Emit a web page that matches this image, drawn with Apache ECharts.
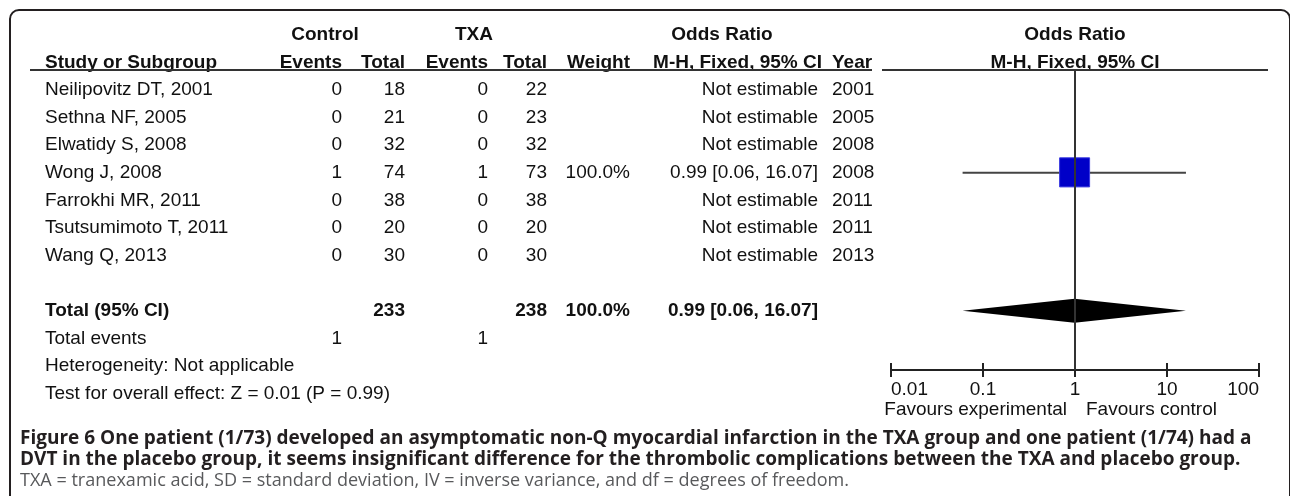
<!DOCTYPE html>
<html><head><meta charset="utf-8">
<script src="https://cdn.jsdelivr.net/npm/echarts@6/dist/echarts.min.js"></script>
<style>html,body{margin:0;padding:0;background:#fff}#c{width:1290px;height:496px}</style>
</head><body><div id="c"></div>
<script>
// ---------- data ----------
const studies = ["Neilipovitz DT, 2001","Sethna NF, 2005","Elwatidy S, 2008","Wong J, 2008","Farrokhi MR, 2011","Tsutsumimoto T, 2011","Wang Q, 2013"];
const controlEvents = [0,0,0,1,0,0,0];
const controlTotal  = [18,21,32,74,38,20,30];
const txaEvents     = [0,0,0,1,0,0,0];
const txaTotal      = [22,23,32,73,38,20,30];
const weights       = [null,null,null,100.0,null,null,null];
const orEst         = [null,null,null,0.99,null,null,null];
const ciLow         = [null,null,null,0.06,null,null,null];
const ciHigh        = [null,null,null,16.07,null,null,null];
const years         = [2001,2005,2008,2008,2011,2011,2013];
const totalControl = 233, totalTxa = 238, totalWeight = 100.0;
const pooledOR = 0.99, pooledLow = 0.06, pooledHigh = 16.07;
const totalEventsControl = 1, totalEventsTxa = 1;
const heterogeneityText = "Heterogeneity: Not applicable";
const overallText = "Test for overall effect: Z = 0.01 (P = 0.99)";
const axisTicks = [0.01, 0.1, 1, 10, 100];
const favoursLabels = ["Favours experimental", "Favours control"];
const captionBold = [
  "Figure 6 One patient (1/73) developed an asymptomatic non-Q myocardial infarction in the TXA group and one patient (1/74) had a",
  "DVT in the placebo group, it seems insignificant difference for the thrombolic complications between the TXA and placebo group."
];
const captionPlain = "TXA = tranexamic acid, SD = standard deviation, IV = inverse variance, and df = degrees of freedom.";

// ---------- layout ----------
const ROW_TOTAL = 8, ROW_EVENTS = 9, ROW_HET = 10, ROW_TEST = 11;
const FONT = "'Liberation Sans', Arial, sans-serif";
const FS = 19;
const INK = '#111';
const COL = {name:45, cEv:342, cTot:405, tEv:488, tTot:547, weight:630, or:818, year:832};

const chart = echarts.init(document.getElementById('c'), null, {renderer:'canvas'});

const estData = [];
for (let i = 0; i < studies.length; i++) {
  if (orEst[i] != null) estData.push([orEst[i], ciLow[i], ciHigh[i], i, weights[i]]);
}

const baseAxis = {
  type:'log', logBase:10, min:axisTicks[0], max:axisTicks[axisTicks.length-1], interval:1,
  splitLine:{show:false}, position:'bottom', offset:0
};

chart.setOption({
  animation:false,
  grid:{left:891, right:31, top:70, bottom:126},
  xAxis:[
    Object.assign({}, baseAxis, {
      axisLine:{show:true, onZero:false, lineStyle:{color:'#222', width:2}},
      axisTick:{show:true, inside:false, length:7, lineStyle:{color:'#222', width:2}},
      axisLabel:{show:true, margin:10, fontSize:FS, fontFamily:FONT, color:INK,
        alignMinLabel:'left', alignMaxLabel:'right',
        formatter: v => String(+Number(v).toPrecision(2))}
    }),
    Object.assign({}, baseAxis, {
      axisLine:{show:false, onZero:false},
      axisTick:{show:true, inside:true, length:7, lineStyle:{color:'#222', width:2}},
      axisLabel:{show:false}
    })
  ],
  yAxis:{type:'value', inverse:true, min:-0.725, max:10.145, show:false},
  series:[
    {
      type:'scatter', data:[], symbolSize:0, z:1,
      markLine:{symbol:'none', silent:true, label:{show:false}, animation:false,
        lineStyle:{color:'#333', width:2, type:'solid'}, data:[{xAxis:1}]}
    },
    {
      type:'custom', z:3, clip:false, data:estData,
      renderItem(params, api){
        const row = api.value(3);
        const lo = api.coord([api.value(1), row]);
        const hi = api.coord([api.value(2), row]);
        const c = api.coord([api.value(0), row]);
        const s = 30 * Math.sqrt(api.value(4) / 100);
        return {type:'group', children:[
          {type:'line', shape:{x1:lo[0], y1:lo[1], x2:hi[0], y2:hi[1]}, style:{stroke:'#444', lineWidth:2}},
          {type:'rect', shape:{x:c[0]-s/2, y:c[1]-s/2, width:s, height:s*0.97}, style:{fill:'#0000c8', stroke:'#3a3ae0', lineWidth:1}}
        ]};
      }
    },
    {
      type:'custom', z:3, clip:false, data:[[pooledOR, pooledLow, pooledHigh, ROW_TOTAL]],
      renderItem(params, api){
        const row = api.value(3);
        const lo = api.coord([api.value(1), row]);
        const hi = api.coord([api.value(2), row]);
        const c = api.coord([api.value(0), row]);
        return {type:'polygon', shape:{points:[[lo[0],lo[1]],[c[0],c[1]-12],[hi[0],hi[1]],[c[0],c[1]+12]]}, style:{fill:'#000'}};
      }
    }
  ]
});

// ---------- texts ----------
const yOf = r => chart.convertToPixel({yAxisIndex:0}, r);
const xOf = v => chart.convertToPixel({xAxisIndex:0}, v);
const g = [];
function txt(s, x, y, align, bold, extra){
  g.push(Object.assign({type:'text', silent:true, style:{text:String(s), x, y,
    font:(bold?'bold ':'') + FS + 'px ' + FONT, fill:INK,
    textAlign:align, align:align, textVerticalAlign:'middle', verticalAlign:'middle'}}, extra||{}));
}
const plotC = xOf(1), plotL = xOf(axisTicks[0]), plotR = xOf(axisTicks[axisTicks.length-1]);
const h1 = yOf(-2), h2 = yOf(-1), uline = yOf(-0.725);
txt('Control', 325, h1, 'center', true);
txt('TXA', 474, h1, 'center', true);
txt('Odds Ratio', 722, h1, 'center', true);
txt('Odds Ratio', plotC, h1, 'center', true);
txt('Study or Subgroup', COL.name, h2, 'left', true);
txt('Events', COL.cEv, h2, 'right', true);
txt('Total', COL.cTot, h2, 'right', true);
txt('Events', COL.tEv, h2, 'right', true);
txt('Total', COL.tTot, h2, 'right', true);
txt('Weight', COL.weight, h2, 'right', true);
txt('M-H, Fixed, 95% CI', 822, h2, 'right', true);
txt('Year', COL.year, h2, 'left', true);
txt('M-H, Fixed, 95% CI', plotC, h2, 'center', true);

for (let i = 0; i < studies.length; i++) {
  const y = yOf(i);
  txt(studies[i], COL.name, y, 'left');
  txt(controlEvents[i], COL.cEv, y, 'right');
  txt(controlTotal[i], COL.cTot, y, 'right');
  txt(txaEvents[i], COL.tEv, y, 'right');
  txt(txaTotal[i], COL.tTot, y, 'right');
  if (weights[i] != null) txt(weights[i].toFixed(1) + '%', COL.weight, y, 'right');
  txt(orEst[i] == null ? 'Not estimable' :
      orEst[i].toFixed(2) + ' [' + ciLow[i].toFixed(2) + ', ' + ciHigh[i].toFixed(2) + ']', COL.or, y, 'right');
  txt(years[i], COL.year, y, 'left');
}
let y = yOf(ROW_TOTAL);
txt('Total (95% CI)', COL.name, y, 'left', true);
txt(totalControl, COL.cTot, y, 'right', true);
txt(totalTxa, COL.tTot, y, 'right', true);
txt(totalWeight.toFixed(1) + '%', COL.weight, y, 'right', true);
txt(pooledOR.toFixed(2) + ' [' + pooledLow.toFixed(2) + ', ' + pooledHigh.toFixed(2) + ']', COL.or, y, 'right', true);
y = yOf(ROW_EVENTS);
txt('Total events', COL.name, y, 'left');
txt(totalEventsControl, COL.cEv, y, 'right');
txt(totalEventsTxa, COL.tEv, y, 'right');
txt(heterogeneityText, COL.name, yOf(ROW_HET), 'left');
txt(overallText, COL.name, yOf(ROW_TEST), 'left');

// favours labels
txt(favoursLabels[0], plotC - 8, 410, 'right');
txt(favoursLabels[1], plotC + 11, 410, 'left');

// header underlines
g.push({type:'line', silent:true, shape:{x1:30, y1:uline, x2:872, y2:uline}, style:{stroke:'#333', lineWidth:2}});
g.push({type:'line', silent:true, shape:{x1:plotL-9, y1:uline, x2:plotR+9, y2:uline}, style:{stroke:'#333', lineWidth:2}});

// frame (right side falls at the image edge)
g.push({type:'rect', silent:true, z:-1, shape:{x:10, y:10, width:1280, height:640, r:9},
  style:{fill:null, stroke:'#231f20', lineWidth:2}});

// caption, sized to fit measured line widths
const ctx = document.createElement('canvas').getContext('2d');
function fit(text, weight, family, target){ ctx.font = weight + ' 100px ' + family; return 100 * target / ctx.measureText(text).width; }
const CAPF = "'Open Sans', 'Noto Sans', sans-serif";
const capSize = Math.min(fit(captionBold[0], 'bold', CAPF, 1232), 19.5);
captionBold.forEach((s, i) => {
  g.push({type:'text', silent:true, style:{text:s, x:20, y:439 + i*21, font:'bold ' + capSize.toFixed(2) + 'px ' + CAPF,
    fill:'#231f20', textAlign:'left', align:'left', textVerticalAlign:'middle', verticalAlign:'middle'}});
});
const plainSize = Math.min(fit(captionPlain, 'normal', CAPF, 830), 19);
g.push({type:'text', silent:true, style:{text:captionPlain, x:20, y:481, font:'normal ' + plainSize.toFixed(2) + 'px ' + CAPF,
  fill:'#58595b', textAlign:'left', align:'left', textVerticalAlign:'middle', verticalAlign:'middle'}});

chart.setOption({graphic:{elements:g}});
</script></body></html>
